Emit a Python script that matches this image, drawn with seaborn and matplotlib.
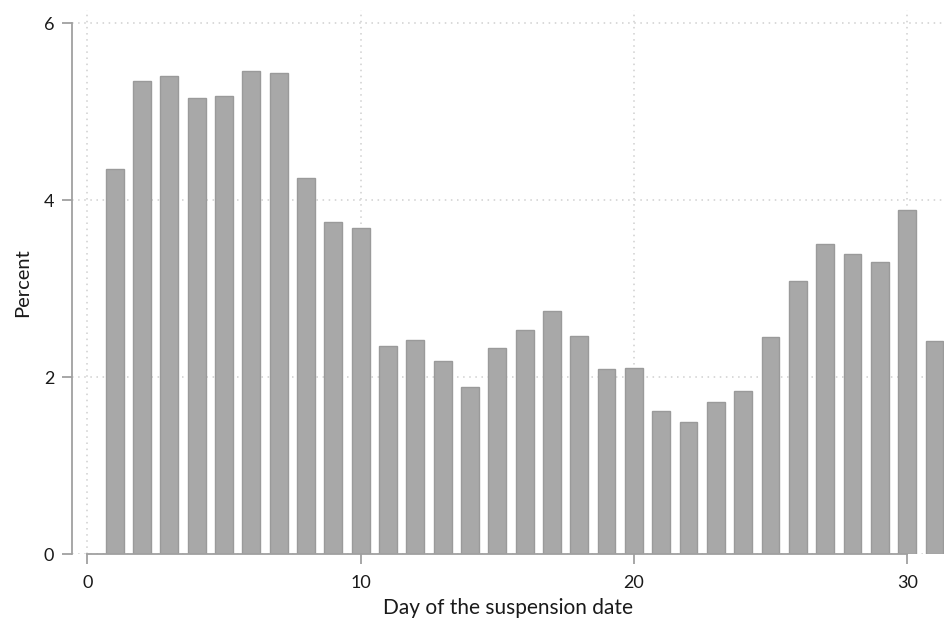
import matplotlib
matplotlib.use("Agg")
import matplotlib.pyplot as plt
import seaborn as sns
import pandas as pd

# Share of suspensions by day of the month
days = list(range(1, 32))
percent = [4.35, 5.35, 5.40, 5.16, 5.18, 5.46, 5.44, 4.25, 3.76, 3.69,
           2.35, 2.42, 2.18, 1.89, 2.33, 2.53, 2.75, 2.47, 2.09, 2.10,
           1.62, 1.49, 1.72, 1.85, 2.45, 3.09, 3.51, 3.39, 3.30, 3.89,
           2.41]
x_ticks = [0, 10, 20, 30]
y_ticks = [0, 2, 4, 6]

sns.set_theme(style="white")
plt.rcParams["font.family"] = ["Lato", "DejaVu Sans"]

df = pd.DataFrame({"day": days, "percent": percent})

fig = plt.figure(figsize=(9.48, 6.25), dpi=100)
ax = fig.add_axes([0.0763, 0.1131, 0.9196, 0.8709])

sns.barplot(data=df, x="day", y="percent", native_scale=True, width=0.65,
            color="#a8a8a8", saturation=1, edgecolor="#9a9a9a", linewidth=1,
            ax=ax, zorder=2)

ax.set_xlim(-0.55, 31.35)
ax.set_ylim(0, 6.15)
ax.set_xticks(x_ticks)
ax.set_yticks(y_ticks)
ax.set_xticklabels([str(t) for t in x_ticks])
ax.set_yticklabels([str(t) for t in y_ticks])

grid_kw = dict(color="#cfcfcf", linestyle=(0, (1, 3)), linewidth=1.1, zorder=0)
for yv in y_ticks:
    ax.axhline(yv, **grid_kw)
for xv in x_ticks:
    ax.axvline(xv, **grid_kw)

for side in ["top", "right"]:
    ax.spines[side].set_visible(False)
ax.spines["left"].set_bounds(0, 6)
ax.spines["bottom"].set_bounds(0, 30)
for side in ["left", "bottom"]:
    ax.spines[side].set_color("#a0a0a0")
    ax.spines[side].set_linewidth(1.3)
    ax.spines[side].set_zorder(3)

ax.tick_params(axis="both", which="major", length=7, width=1.3,
               color="#a0a0a0", labelsize=13, labelcolor="#1a1a1a",
               direction="out", bottom=True, left=True)
ax.tick_params(axis="x", pad=8)
ax.tick_params(axis="y", pad=6)

ax.set_xlabel("Day of the suspension date", fontsize=15, color="#1a1a1a", labelpad=5)
ax.set_ylabel("Percent", fontsize=14.5, color="#1a1a1a", labelpad=9)

fig.savefig("out.png", dpi=100)
